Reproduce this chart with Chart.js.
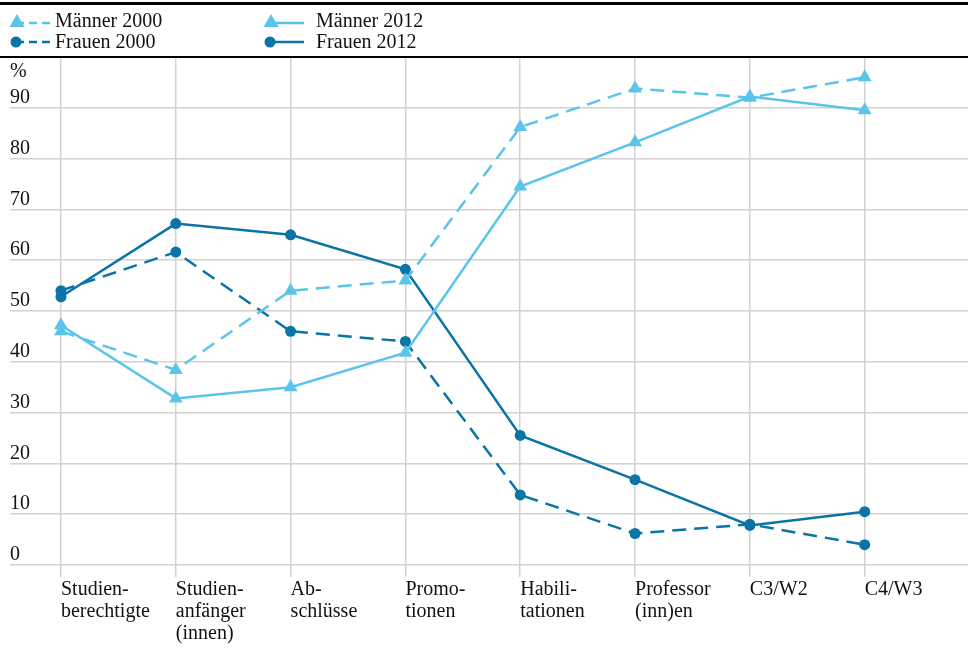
<!DOCTYPE html>
<html>
<head>
<meta charset="utf-8">
<script src="https://cdn.jsdelivr.net/npm/chart.js@4/dist/chart.umd.min.js"></script>
<style>
  html, body { margin: 0; padding: 0; background: #fff; }
  #wrap { width: 968px; height: 648px; position: relative; }
</style>
</head>
<body>
<div id="wrap"><canvas id="chart"></canvas></div>
<script>
// categories (multi-line tick labels)
const categories = [
    ['Studien-', 'berechtigte'],
    ['Studien-', 'anfänger', '(innen)'],
    ['Ab-', 'schlüsse'],
    ['Promo-', 'tionen'],
    ['Habili-', 'tationen'],
    ['Professor', '(inn)en'],
    ['C3/W2'],
    ['C4/W3']
];

// shares in %
const maenner2000 = [46.0, 38.4, 54.0, 56.0, 86.2, 93.8, 92.0, 96.0];
const frauen2000  = [54.0, 61.6, 46.0, 44.0, 13.8, 6.2, 8.0, 4.0];
const maenner2012 = [47.2, 32.8, 35.0, 41.8, 74.5, 83.2, 92.2, 89.5];
const frauen2012  = [52.8, 67.2, 65.0, 58.2, 25.5, 16.8, 7.8, 10.5];

const yTicks = [0, 10, 20, 30, 40, 50, 60, 70, 80, 90];

const LIGHT = '#5bc4eb';
const DARK = '#0a74a6';
const GRID = '#d2d2d2';
const FONT = "'Liberation Serif', 'Times New Roman', serif";

const toPoints = arr => arr.map((v, i) => ({ x: i, y: v }));

function series(label, values, color, dashed, style) {
    return {
        label: label,
        data: toPoints(values),
        borderColor: color,
        backgroundColor: color,
        borderWidth: 2.5,
        borderDash: dashed ? [14, 8] : [],
        pointStyle: style,
        pointRadius: style === 'triangle' ? 8 : 5.5,
        pointBorderWidth: 0,
        pointBackgroundColor: color,
        tension: 0,
        fill: false
    };
}

function noPadding(scale) {
    scale.paddingLeft = 0;
    scale.paddingRight = 0;
    scale.paddingTop = 0;
    scale.paddingBottom = 0;
}

// legend in two fixed columns + the two black rules + "%" label
const decorPlugin = {
    id: 'decor',
    afterDraw(chart) {
        const ctx = chart.ctx;
        const w = chart.width;
        ctx.save();
        ctx.fillStyle = '#000';
        ctx.fillRect(0, 2, w, 3);
        ctx.fillRect(0, 56, w, 2);

        const items = [
            { ds: 0, x: 10, y: 21, tx: 55 },
            { ds: 2, x: 10, y: 42, tx: 55 },
            { ds: 1, x: 264, y: 21, tx: 316 },
            { ds: 3, x: 264, y: 42, tx: 316 }
        ];
        items.forEach(it => {
            const ds = chart.data.datasets[it.ds];
            const lineY = ds.pointStyle === 'triangle' ? it.y + 2 : it.y;
            ctx.strokeStyle = ds.borderColor;
            ctx.fillStyle = ds.borderColor;
            ctx.lineWidth = 2.5;
            ctx.setLineDash(ds.borderDash.length ? [8, 5] : []);
            ctx.beginPath();
            ctx.moveTo(it.x + 6, lineY);
            ctx.lineTo(it.x + 40, lineY);
            ctx.stroke();
            ctx.setLineDash([]);
            const cx = it.x + 7;
            ctx.beginPath();
            if (ds.pointStyle === 'triangle') {
                ctx.moveTo(cx, it.y - 7);
                ctx.lineTo(cx + 7.5, it.y + 6);
                ctx.lineTo(cx - 7.5, it.y + 6);
                ctx.closePath();
            } else {
                ctx.arc(cx - 1, it.y, 5.5, 0, Math.PI * 2);
            }
            ctx.fill();
            ctx.fillStyle = '#111';
            ctx.font = '20px ' + FONT;
            ctx.textBaseline = 'middle';
            ctx.textAlign = 'left';
            ctx.fillText(ds.label, it.tx, it.y + 1);
        });

        ctx.fillStyle = '#111';
        ctx.font = '20px ' + FONT;
        ctx.textBaseline = 'middle';
        ctx.fillText('%', chart.chartArea.left, chart.chartArea.top + 15);
        ctx.restore();
    }
};

new Chart(document.getElementById('chart'), {
    type: 'line',
    data: {
        datasets: [
            series('Männer 2000', maenner2000, LIGHT, true, 'triangle'),
            series('Männer 2012', maenner2012, LIGHT, false, 'triangle'),
            series('Frauen 2000', frauen2000, DARK, true, 'circle'),
            series('Frauen 2012', frauen2012, DARK, false, 'circle')
        ]
    },
    options: {
        responsive: true,
        maintainAspectRatio: false,
        animation: false,
        layout: { autoPadding: false, padding: { top: 57, left: 10, right: 0, bottom: 1 } },
        plugins: {
            legend: { display: false },
            tooltip: { enabled: false }
        },
        scales: {
            x: {
                type: 'linear',
                min: -0.444,
                max: 7.9,
                afterBuildTicks: scale => {
                    scale.ticks = categories.map((c, i) => ({ value: i }));
                },
                afterFit: noPadding,
                grid: { color: GRID, lineWidth: 1.5, drawTicks: true, tickLength: 12, tickColor: GRID },
                border: { display: false },
                ticks: {
                    autoSkip: false,
                    maxRotation: 0,
                    align: 'start',
                    padding: 2,
                    color: '#111',
                    font: { family: FONT, size: 20, lineHeight: 1.1 },
                    callback: v => categories[v]
                }
            },
            y: {
                min: 0,
                max: 100,
                afterBuildTicks: scale => {
                    scale.ticks = yTicks.concat([100]).map(v => ({ value: v }));
                },
                afterFit: noPadding,
                grid: { color: GRID, lineWidth: 1.5, drawTicks: false },
                border: { display: false },
                ticks: {
                    mirror: true,
                    padding: 0,
                    labelOffset: -10,
                    color: '#111',
                    font: { family: FONT, size: 20 },
                    callback: v => (v === 100 ? '' : v)
                }
            }
        }
    },
    plugins: [decorPlugin]
});
</script>
</body>
</html>
